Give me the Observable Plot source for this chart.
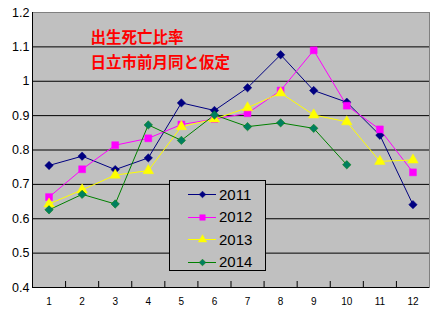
<!DOCTYPE html>
<html><head><meta charset="utf-8">
<script src="https://cdn.jsdelivr.net/npm/d3@7"></script>
<script src="https://cdn.jsdelivr.net/npm/@observablehq/plot@0.6"></script>
<style>
body{margin:0;background:#fff;}
#wrap{position:relative;width:433px;height:315px;}
#legend{position:absolute;left:169px;top:180px;width:97px;height:91px;border:1px solid #000;background:#c0c0c0;box-sizing:border-box;font-family:"Liberation Sans",Arial,sans-serif;font-size:15px;}
.row{position:absolute;left:0;height:20px;display:flex;align-items:center;}
.row svg{margin-left:18px;}
.row span{margin-left:3px;color:#000;}
</style></head>
<body><div id="wrap"></div>
<script>
const months = [1,2,3,4,5,6,7,8,9,10,11,12];
const years = ["2011","2012","2013","2014"];
const v2011 = [0.755,0.782,0.743,0.777,0.937,0.915,0.981,1.077,0.973,0.939,0.843,0.641];
const v2012 = [0.663,0.744,0.814,0.834,0.874,0.890,0.907,0.973,1.090,0.929,0.860,0.735];
const v2013 = [0.643,0.684,0.727,0.740,0.868,0.890,0.923,0.966,0.902,0.882,0.767,0.771];
const v2014 = [0.626,0.671,0.643,0.873,0.828,0.902,0.868,0.879,0.863,0.757];
const yTicks = [0.4,0.5,0.6,0.7,0.8,0.9,1.0,1.1,1.2];
const gridY = [0.5,0.6,0.7,0.8,0.9,1.0,1.1];
const boundaries = [1.5,2.5,3.5,4.5,5.5,6.5,7.5,8.5,9.5,10.5,11.5];
const titleText = "出生死亡比率\n日立市前月同と仮定";

const styles = {
  "2011": {stroke:"#000080", fill:"#000080", symbol:"diamond2", r:3.8},
  "2012": {stroke:"#ff00ff", fill:"#ff00ff", symbol:"square", r:3.9},
  "2013": {stroke:"#ffff00", fill:"#ffff00", symbol:"triangle", r:3.9},
  "2014": {stroke:"#008000", fill:"#007f5f", symbol:"diamond2", r:3.8}
};
const seriesVals = {"2011":v2011,"2012":v2012,"2013":v2013,"2014":v2014};
const data = [];
for (const y of years) seriesVals[y].forEach((v,i)=>data.push({year:y, month:months[i], value:v}));

const marks = [
  Plot.frame({fill:"#c0c0c0", stroke:"#808080"}),
  Plot.ruleY(gridY, {stroke:"#000", strokeWidth:1}),
  Plot.ruleX(boundaries, {stroke:"#000", insetTop:269}),
  Plot.ruleY([0.4], {stroke:"#000"}),
  Plot.ruleX([0.5], {stroke:"#000"}),
];
for (const y of years) {
  const s = styles[y];
  const d = data.filter(e=>e.year===y);
  marks.push(Plot.line(d, {x:"month", y:"value", stroke:s.stroke, strokeWidth:1}));
}
for (const y of years) {
  const s = styles[y];
  const d = data.filter(e=>e.year===y);
  marks.push(Plot.dot(d, {x:"month", y:"value", symbol:()=>s.symbol, fill:s.fill, stroke:s.stroke, strokeWidth:0.5, r:s.r}));
}
marks.push(Plot.text([titleText], {frameAnchor:"top-left", dx:58, dy:13, lineAnchor:"top", textAnchor:"start", lineHeight:1.6, fill:"#ff0000", fontSize:15.5, fontWeight:"bold", fontFamily:"'Noto Sans CJK JP', sans-serif"}));
marks.push(Plot.axisY(yTicks, {tickSize:0, tickPadding:3, label:null, tickFormat:d=>String(+d.toFixed(1)), fontSize:12.5, fill:"#000", fontFamily:"'Liberation Sans', Arial, sans-serif"}));
marks.push(Plot.axisX(months, {tickSize:0, tickPadding:10, label:null, fontSize:10, fill:"#000", fontFamily:"'Liberation Sans', Arial, sans-serif"}));

const chart = Plot.plot({
  width:433, height:315,
  marginLeft:32, marginRight:4, marginTop:12, marginBottom:28,
  x:{domain:[0.5,12.5], label:null},
  y:{domain:[0.4,1.2], label:null},
  symbol:{type:"identity"},
  style:{background:"#fff", overflow:"visible"},
  marks
});
const wrap = document.getElementById("wrap");
wrap.appendChild(chart);

const legend = document.createElement("div");
legend.id = "legend";
years.forEach((y,i)=>{
  const s = styles[y];
  const row = document.createElement("div");
  row.className = "row";
  row.style.top = (3 + i*22.5) + "px";
  const sym = Plot.plot({width:28, height:12, margin:0, x:{domain:[0,1], axis:null}, y:{domain:[0,1], axis:null}, symbol:{type:"identity"},
    style:{background:"transparent", overflow:"visible"},
    marks:[
      Plot.ruleY([0.5], {x1:0, x2:1, stroke:s.stroke}),
      Plot.dot([0.5], {x:d=>d, y:0.5, symbol:()=>s.symbol, fill:s.fill, stroke:s.stroke, strokeWidth:0.5, r:s.r*0.8})
    ]});
  row.appendChild(sym);
  const t = document.createElement("span");
  t.textContent = y;
  row.appendChild(t);
  legend.appendChild(row);
});
wrap.appendChild(legend);
</script></body></html>
